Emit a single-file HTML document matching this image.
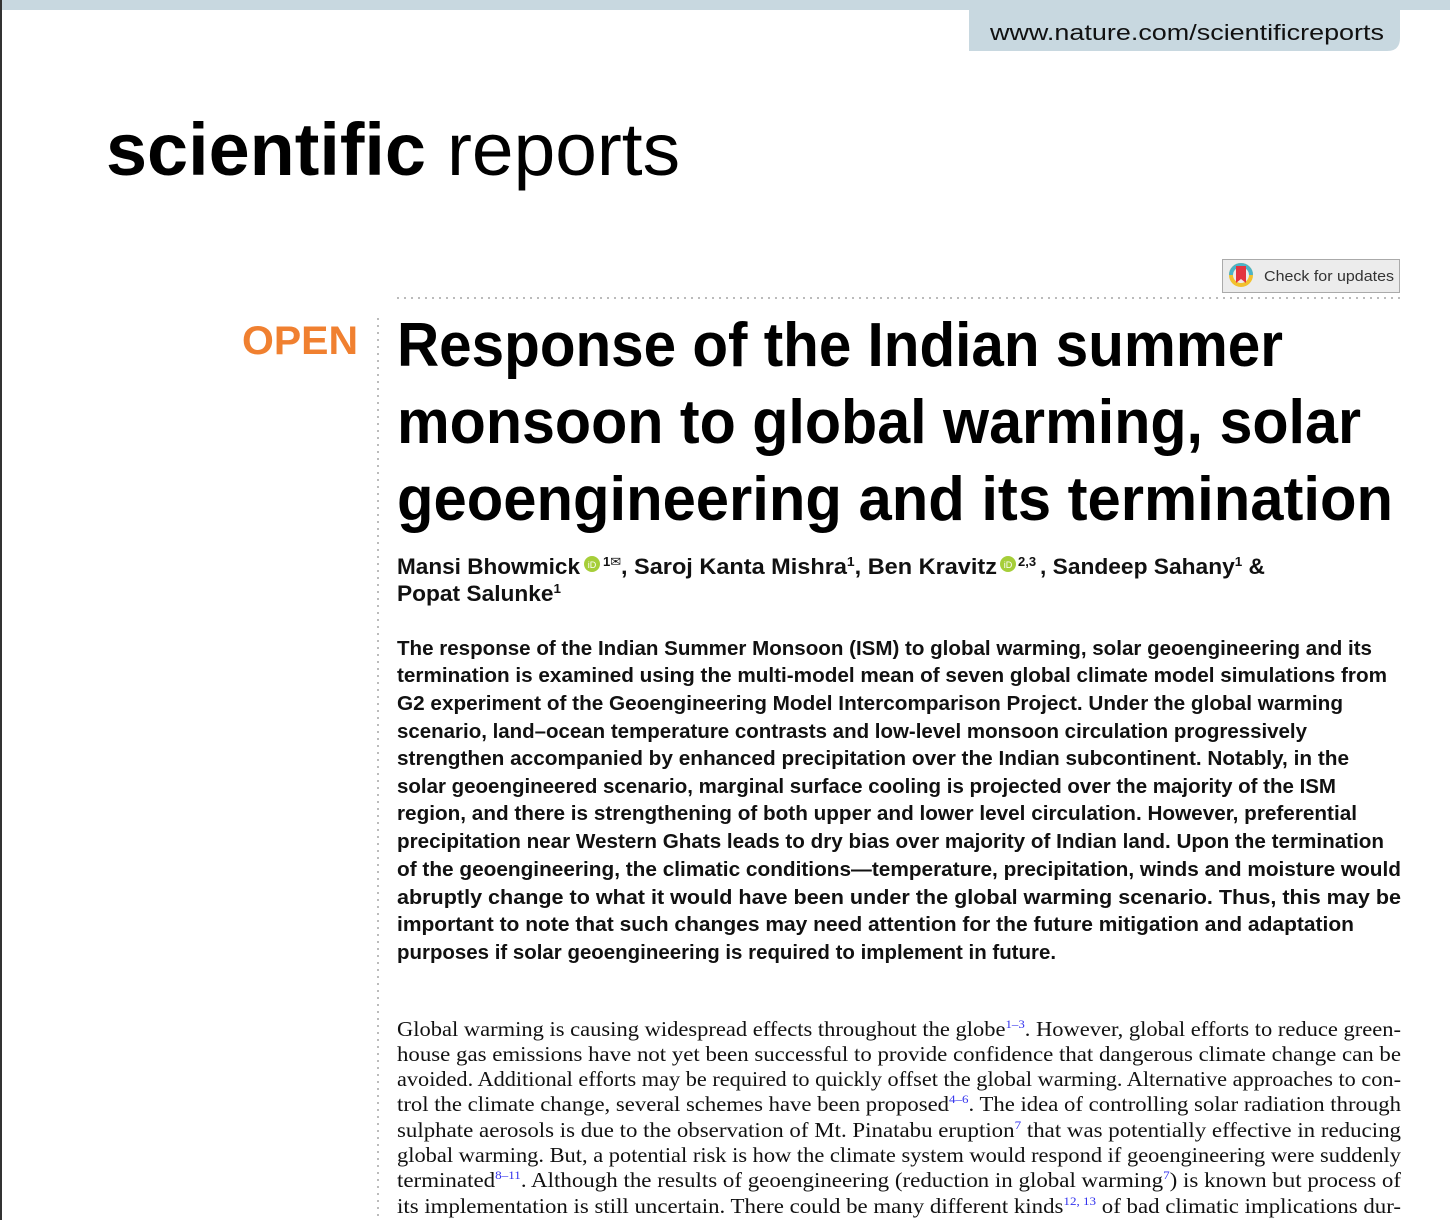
<!DOCTYPE html>
<html><head><meta charset="utf-8"><style>
html,body{margin:0;padding:0;background:#fff;width:1450px;height:1220px;overflow:hidden}
svg{display:block}
.sans{font-family:"Liberation Sans","DejaVu Sans",sans-serif}
.serif{font-family:"Liberation Serif",serif}
</style></head><body>
<svg width="1450" height="1220" viewBox="0 0 1450 1220" xmlns="http://www.w3.org/2000/svg">
<rect x="0" y="0" width="1450" height="1220" fill="#fff"/>
<rect x="0" y="0" width="2" height="1220" fill="#333"/>
<rect x="2" y="0" width="1448" height="10" fill="#c8d8e0"/>
<path d="M969 10 H1400 V38 Q1400 51 1387 51 H969 Z" fill="#c8d8e0"/>
<text class="sans" x="990" y="40" font-size="22" fill="#111" textLength="394" lengthAdjust="spacingAndGlyphs">www.nature.com/scientificreports</text>

<g>
<text class="sans" x="106" y="175" font-size="74" font-weight="bold" fill="#000" textLength="320" lengthAdjust="spacingAndGlyphs">scientific</text>
<text class="sans" x="447" y="175" font-size="74" fill="#000" textLength="233" lengthAdjust="spacingAndGlyphs">reports</text>
</g>

<g>
<rect x="1222.5" y="259.5" width="177" height="33" fill="#ececec" stroke="#aaa"/>
<circle cx="1241" cy="275" r="10" fill="none" stroke="#f2c12e" stroke-width="4"/>
<path d="M1231 275 A10 10 0 0 1 1251 275" fill="none" stroke="#4bb3c8" stroke-width="4"/>
<path d="M1236 266 H1246 V283 L1241 279 L1236 283 Z" fill="#e3343f"/>
<text class="sans" x="1264" y="281" font-size="15" fill="#333" textLength="130" lengthAdjust="spacingAndGlyphs">Check for updates</text>
</g>
<line x1="397" y1="298" x2="1400" y2="298" stroke="#bbb" stroke-width="2" stroke-dasharray="2 5"/>
<line x1="378" y1="318" x2="378" y2="1220" stroke="#bbb" stroke-width="2" stroke-dasharray="2 5"/>

<text class="sans" x="242" y="354" font-size="40" font-weight="bold" fill="#f08030" textLength="116" lengthAdjust="spacingAndGlyphs">OPEN</text>

<g class="sans" font-size="62" font-weight="bold" fill="#000">
<text x="397" y="366" textLength="886" lengthAdjust="spacingAndGlyphs">Response of the Indian summer</text>
<text x="397" y="443" textLength="964" lengthAdjust="spacingAndGlyphs">monsoon to global warming, solar</text>
<text x="397" y="520" textLength="996" lengthAdjust="spacingAndGlyphs">geoengineering and its termination</text>
</g>

<g class="sans" font-size="22" font-weight="bold" fill="#111">
<text x="397" y="574" textLength="183" lengthAdjust="spacingAndGlyphs">Mansi Bhowmick</text>
<text x="603" y="566" font-size="13">1✉</text>
<text x="621" y="574" textLength="376" lengthAdjust="spacingAndGlyphs">, Saroj Kanta Mishra<tspan font-size="13" dy="-8">1</tspan><tspan dy="8">, Ben Kravitz</tspan></text>
<text x="1018" y="566" font-size="13">2,3</text>
<text x="1040" y="574" textLength="225" lengthAdjust="spacingAndGlyphs">, Sandeep Sahany<tspan font-size="13" dy="-8">1</tspan><tspan dy="8"> &amp;</tspan></text>
<text x="397" y="601" textLength="164" lengthAdjust="spacingAndGlyphs">Popat Salunke<tspan font-size="13" dy="-8">1</tspan></text>
</g>
<g><circle cx="592" cy="564" r="8" fill="#a6ce39"/><text x="592" y="568" font-size="9" fill="#fff" text-anchor="middle" class="sans">iD</text></g>
<g><circle cx="1008" cy="564" r="8" fill="#a6ce39"/><text x="1008" y="568" font-size="9" fill="#fff" text-anchor="middle" class="sans">iD</text></g>

<g class="sans" font-size="20" font-weight="bold" fill="#111">
<text x="397" y="655" textLength="975" lengthAdjust="spacingAndGlyphs">The response of the Indian Summer Monsoon (ISM) to global warming, solar geoengineering and its</text>
<text x="397" y="682" textLength="990" lengthAdjust="spacingAndGlyphs">termination is examined using the multi-model mean of seven global climate model simulations from</text>
<text x="397" y="710" textLength="946" lengthAdjust="spacingAndGlyphs">G2 experiment of the Geoengineering Model Intercomparison Project. Under the global warming</text>
<text x="397" y="738" textLength="910" lengthAdjust="spacingAndGlyphs">scenario, land–ocean temperature contrasts and low-level monsoon circulation progressively</text>
<text x="397" y="765" textLength="952" lengthAdjust="spacingAndGlyphs">strengthen accompanied by enhanced precipitation over the Indian subcontinent. Notably, in the</text>
<text x="397" y="793" textLength="939" lengthAdjust="spacingAndGlyphs">solar geoengineered scenario, marginal surface cooling is projected over the majority of the ISM</text>
<text x="397" y="820" textLength="960" lengthAdjust="spacingAndGlyphs">region, and there is strengthening of both upper and lower level circulation. However, preferential</text>
<text x="397" y="848" textLength="987" lengthAdjust="spacingAndGlyphs">precipitation near Western Ghats leads to dry bias over majority of Indian land. Upon the termination</text>
<text x="397" y="876" textLength="1004" lengthAdjust="spacingAndGlyphs">of the geoengineering, the climatic conditions—temperature, precipitation, winds and moisture would</text>
<text x="397" y="904" textLength="1004" lengthAdjust="spacingAndGlyphs">abruptly change to what it would have been under the global warming scenario. Thus, this may be</text>
<text x="397" y="931" textLength="957" lengthAdjust="spacingAndGlyphs">important to note that such changes may need attention for the future mitigation and adaptation</text>
<text x="397" y="959" textLength="659" lengthAdjust="spacingAndGlyphs">purposes if solar geoengineering is required to implement in future.</text>
</g>

<g class="serif" font-size="21" fill="#111">
<text x="397" y="1036" textLength="1004" lengthAdjust="spacingAndGlyphs">Global warming is causing widespread effects throughout the globe<tspan font-size="12" dy="-8" fill="#3333ee">1–3</tspan><tspan dy="8">. However, global efforts to reduce green-</tspan></text>
<text x="397" y="1061" textLength="1004" lengthAdjust="spacingAndGlyphs">house gas emissions have not yet been successful to provide confidence that dangerous climate change can be</text>
<text x="397" y="1086" textLength="1004" lengthAdjust="spacingAndGlyphs">avoided. Additional efforts may be required to quickly offset the global warming. Alternative approaches to con-</text>
<text x="397" y="1111" textLength="1004" lengthAdjust="spacingAndGlyphs">trol the climate change, several schemes have been proposed<tspan font-size="12" dy="-8" fill="#3333ee">4–6</tspan><tspan dy="8">. The idea of controlling solar radiation through</tspan></text>
<text x="397" y="1137" textLength="1004" lengthAdjust="spacingAndGlyphs">sulphate aerosols is due to the observation of Mt. Pinatabu eruption<tspan font-size="12" dy="-8" fill="#3333ee">7</tspan><tspan dy="8"> that was potentially effective in reducing</tspan></text>
<text x="397" y="1162" textLength="1004" lengthAdjust="spacingAndGlyphs">global warming. But, a potential risk is how the climate system would respond if geoengineering were suddenly</text>
<text x="397" y="1187" textLength="1004" lengthAdjust="spacingAndGlyphs">terminated<tspan font-size="12" dy="-8" fill="#3333ee">8–11</tspan><tspan dy="8">. Although the results of geoengineering (reduction in global warming</tspan><tspan font-size="12" dy="-8" fill="#3333ee">7</tspan><tspan dy="8">) is known but process of</tspan></text>
<text x="397" y="1213" textLength="1004" lengthAdjust="spacingAndGlyphs">its implementation is still uncertain. There could be many different kinds<tspan font-size="12" dy="-8" fill="#3333ee">12, 13</tspan><tspan dy="8"> of bad climatic implications dur-</tspan></text>
</g>
</svg>
</body></html>
